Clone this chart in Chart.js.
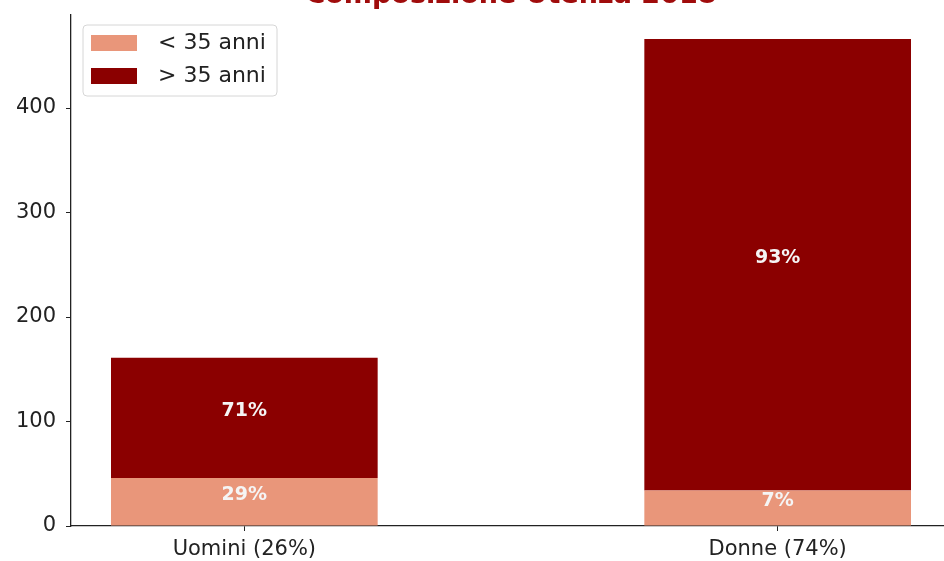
<!DOCTYPE html>
<html>
<head>
<meta charset="utf-8">
<script src="https://cdn.jsdelivr.net/npm/chart.js@4/dist/chart.umd.min.js"></script>
<style>
  html, body { margin: 0; padding: 0; background: #fff; overflow: hidden; }
  #box { width: 952px; height: 561px; }
</style>
</head>
<body>
<div id="box"><canvas id="grafico"></canvas></div>
<script>
// dati
const titolo     = 'Composizione Utenza 2018';
const categorie  = ['Uomini (26%)', 'Donne (74%)'];
const etichette  = ['< 35 anni', '> 35 anni'];
const sotto35    = [46, 34];
const sopra35    = [115, 432];
const tickY      = [0, 100, 200, 300, 400];
const colori     = ['#e9967a', '#8b0000'];

const FONT = "'DejaVu Sans', sans-serif";
const serie = [sotto35, sopra35];

// percentuali dentro ogni barra
const etichetteBarre = {
    id: 'etichetteBarre',
    afterDatasetsDraw(chart) {
        const ctx = chart.ctx;
        ctx.save();
        ctx.font = 'bold 19px ' + FONT;
        ctx.fillStyle = '#f5f5f5';
        ctx.textAlign = 'center';
        ctx.textBaseline = 'middle';
        chart.data.datasets.forEach((ds, i) => {
            chart.getDatasetMeta(i).data.forEach((el, j) => {
                const tot = sotto35[j] + sopra35[j];
                const pct = Math.round(serie[i][j] / tot * 100) + '%';
                ctx.fillText(pct, el.x, (el.y + el.base) / 2 - 7);
            });
        });
        ctx.restore();
    }
};

// titolo (tagliato in alto come nell'originale) e legenda dentro l'area
const decorazioni = {
    id: 'decorazioni',
    afterDraw(chart) {
        const ctx = chart.ctx;
        const area = chart.chartArea;
        ctx.save();
        ctx.font = 'bold 27px ' + FONT;
        ctx.fillStyle = '#a00c0c';
        ctx.textAlign = 'center';
        ctx.textBaseline = 'alphabetic';
        ctx.fillText(titolo, (area.left + area.right) / 2, 3);

        const x = area.left + 12, y = area.top + 10, w = 194, h = 71;
        ctx.fillStyle = 'rgba(255,255,255,0.85)';
        ctx.strokeStyle = '#d6d6d6';
        ctx.lineWidth = 1;
        ctx.beginPath();
        ctx.roundRect(x, y, w, h, 4);
        ctx.fill();
        ctx.stroke();

        ctx.font = '22px ' + FONT;
        ctx.textAlign = 'left';
        ctx.textBaseline = 'middle';
        chart.data.datasets.forEach((ds, i) => {
            const cy = y + 18 + i * 33;
            ctx.fillStyle = ds.backgroundColor;
            ctx.fillRect(x + 8, cy - 8, 46, 16);
            ctx.fillStyle = '#222';
            ctx.fillText(ds.label, x + 75, cy);
        });
        ctx.restore();
    }
};

new Chart(document.getElementById('grafico'), {
    type: 'bar',
    data: {
        datasets: serie.map((vals, i) => ({
            label: etichette[i],
            data: vals.map((v, j) => ({ x: j, y: v })),
            backgroundColor: colori[i],
            borderWidth: 0,
            barPercentage: 0.5,
            categoryPercentage: 1.0
        }))
    },
    options: {
        responsive: true,
        maintainAspectRatio: false,
        animation: false,
        layout: { padding: { top: 15, right: 1, left: 0, bottom: 0 } },
        plugins: {
            legend: { display: false },
            tooltip: { enabled: false }
        },
        scales: {
            x: {
                type: 'linear',
                stacked: true,
                offset: false,
                min: -0.325,
                max: 1.325,
                afterBuildTicks: s => { s.ticks = categorie.map((c, i) => ({ value: i })); },
                afterFit: s => { s.height = 35; s.paddingLeft = 0; s.paddingRight = 0; },
                ticks: {
                    callback: v => categorie[v],
                    color: '#222',
                    font: { family: FONT, size: 21 },
                    padding: 6,
                    maxRotation: 0
                },
                grid: { offset: false, drawOnChartArea: false, drawTicks: true, tickLength: 5, color: '#222' },
                border: { display: true, color: '#222', width: 1.3 }
            },
            y: {
                stacked: true,
                min: 0,
                max: 489,
                afterBuildTicks: s => { s.ticks = tickY.map(v => ({ value: v })); },
                afterFit: s => { s.width = 71; s.paddingTop = 0; s.paddingBottom = 0; },
                ticks: {
                    color: '#222',
                    font: { family: FONT, size: 21 },
                    padding: 10
                },
                grid: { drawOnChartArea: false, drawTicks: true, tickLength: 5, color: '#222' },
                border: { display: true, color: '#222', width: 1.3 }
            }
        }
    },
    plugins: [etichetteBarre, decorazioni]
});
</script>
</body>
</html>
